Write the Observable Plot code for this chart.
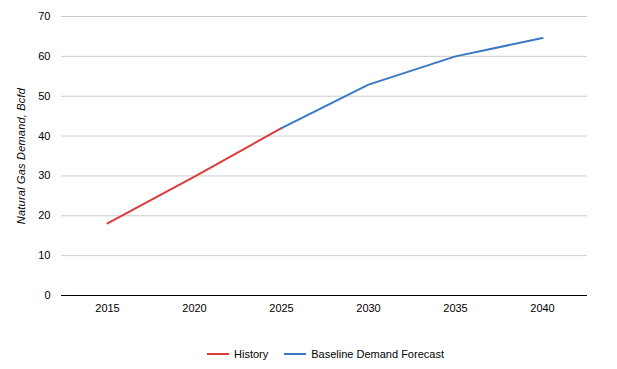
<!DOCTYPE html>
<html>
<head>
<meta charset="utf-8">
<script src="https://cdn.jsdelivr.net/npm/d3@7"></script>
<script src="https://cdn.jsdelivr.net/npm/@observablehq/plot@0.6"></script>
<style>
  body { margin: 0; background: #fff; font-family: Arial, "Liberation Sans", sans-serif; }
  #chart svg { display: block; }
  g[aria-label="y-axis label"] text { font-style: italic; letter-spacing: 0.2px; }
  #legend { display: flex; justify-content: center; align-items: center; gap: 16px; font-size: 11px; color: #000; height: 20px; margin-top: 9px; padding-left: 34px; }
  .item { display: flex; align-items: center; gap: 5px; }
  .sw { width: 22px; height: 2px; }
</style>
</head>
<body>
<div id="chart"></div>
<div id="legend"></div>
<script>
const years = ["2015", "2020", "2025", "2030", "2035", "2040"];
const historyValues = [18.1, 29.8, 42.0, null, null, null];
const forecastValues = [null, null, 42.0, 52.9, 60.0, 64.6];
const seriesNames = ["History", "Baseline Demand Forecast"];
const seriesColors = ["#dc3b3b", "#3b78c3"];
const yTicks = [0, 10, 20, 30, 40, 50, 60, 70];

const rows = [];
years.forEach((y, i) => {
  if (historyValues[i] != null) rows.push({year: y, value: historyValues[i], series: seriesNames[0]});
  if (forecastValues[i] != null) rows.push({year: y, value: forecastValues[i], series: seriesNames[1]});
});

const chart = Plot.plot({
  width: 617,
  height: 335,
  marginLeft: 61,
  marginRight: 30,
  marginTop: 16,
  marginBottom: 40,
  style: {fontFamily: "Arial, 'Liberation Sans', sans-serif", fontSize: "11px", color: "#000", background: "#fff"},
  x: {type: "point", domain: years, padding: 0.5},
  y: {domain: [0, 70]},
  color: {domain: seriesNames, range: seriesColors},
  marks: [
    Plot.gridY(yTicks, {stroke: "#cccccc", strokeOpacity: 1}),
    Plot.axisY(yTicks, {tickSize: 0, tickPadding: 11, label: "Natural Gas Demand, Bcfd", labelAnchor: "center", labelArrow: "none", labelOffset: 44, fill: "#000"}),
    Plot.axisX({tickSize: 0, tickPadding: 9, label: null, fill: "#000"}),
    Plot.ruleY([0], {stroke: "#000", strokeWidth: 1}),
    Plot.line(rows, {x: "year", y: "value", z: "series", stroke: "series", strokeWidth: 2})
  ]
});
document.getElementById("chart").appendChild(chart);

const legend = document.getElementById("legend");
seriesNames.forEach((n, i) => {
  const item = document.createElement("div");
  item.className = "item";
  const sw = document.createElement("div");
  sw.className = "sw";
  sw.style.background = seriesColors[i];
  const t = document.createElement("span");
  t.textContent = n;
  item.appendChild(sw);
  item.appendChild(t);
  legend.appendChild(item);
});
</script>
</body>
</html>
